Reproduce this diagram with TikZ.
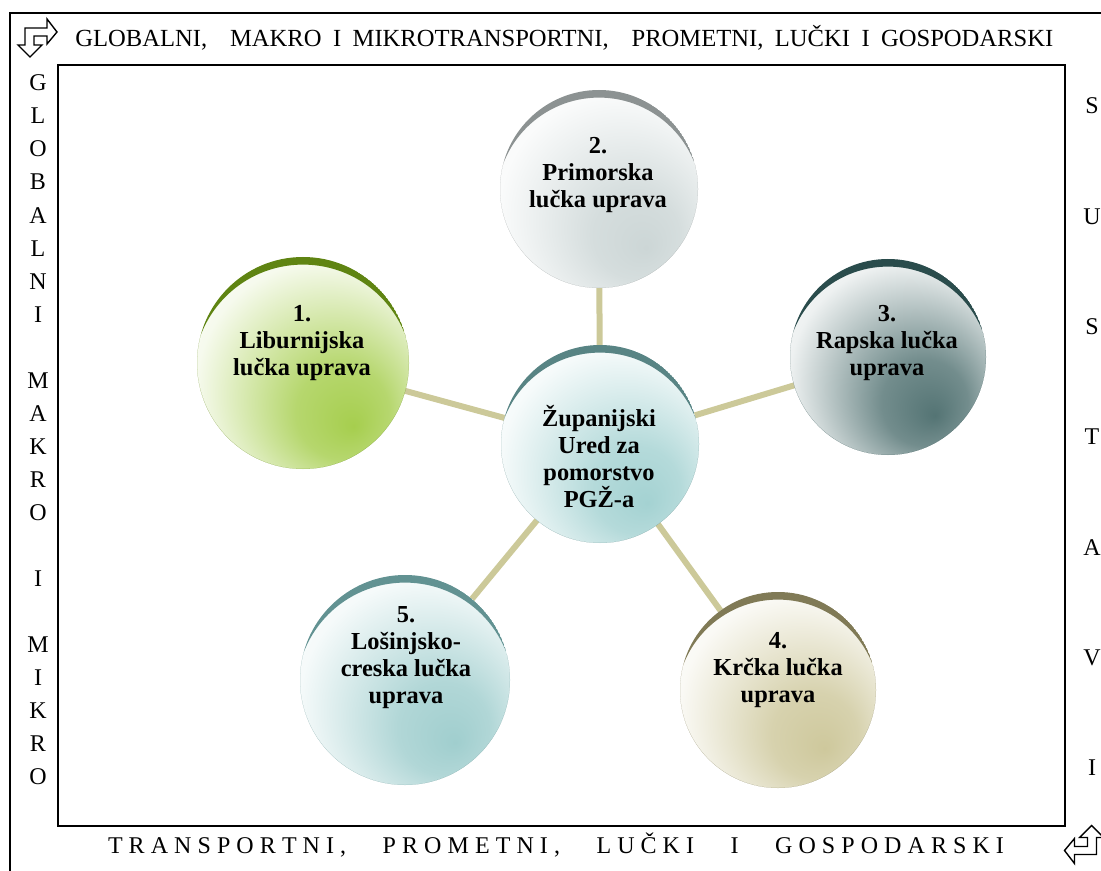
\documentclass[tikz,border=0pt]{standalone}
\usepackage{fontspec}
\setmainfont{Liberation Serif}
\usetikzlibrary{calc, backgrounds}
\definecolor{linkkhaki}{RGB}{204,201,153}
\definecolor{libdark}{RGB}{95,132,18}   \definecolor{liblight}{RGB}{166,206,78}
\definecolor{primdark}{RGB}{140,146,146} \definecolor{primlight}{RGB}{204,214,214}
\definecolor{rabdark}{RGB}{42,76,76}    \definecolor{rablight}{RGB}{84,116,116}
\definecolor{krkdark}{RGB}{128,122,86}  \definecolor{krklight}{RGB}{206,200,156}
\definecolor{losdark}{RGB}{98,146,146}  \definecolor{loslight}{RGB}{160,206,206}
\definecolor{zupdark}{RGB}{88,132,132}  \definecolor{zuplight}{RGB}{164,210,210}
\colorlet{glowcol}{white}
\pgfdeclareradialshading[glowcol]{portglow}{\pgfpoint{12bp}{-15bp}}{%
  color(0bp)=(glowcol); color(11bp)=(glowcol!82!white);
  color(30bp)=(glowcol!10!white); color(40bp)=(white); color(50bp)=(white)}
% top crescent of a circle: node, radius, colour
\newcommand{\crescent}[3]{%
  \begin{scope}
    \clip (#1.center) circle (#2);
    \fill[#3, even odd rule] (#1.center) circle (#2)
        ($(#1.center)+(0,-5.5pt)$) circle (#2+1.7pt);
  \end{scope}}
% spread letters
\newcommand{\lsp}{\hskip 0pt plus 1fill\relax}
\newcommand{\wsp}{\hskip 0pt plus 6fill\relax}

\begin{document}
\begin{tikzpicture}[
    x=0.5pt, y=-0.5pt,
    frame/.style={draw, line width=1pt},
    port/.style={circle, inner sep=0pt, minimum size=#1},
    glow/.style={/utils/exec={\colorlet{glowcol}{#1}}, shade, shading=portglow},
    porttext/.style={align=center, font=\bfseries\fontsize{12.2}{13.5}\selectfont},
    link/.style={linkkhaki, line width=3pt},
    letter/.style={inner sep=0pt, font=\fontsize{12}{14}\selectfont},
    turnarrow/.pic={
      \draw[line width=0.7pt, fill=white] (-12.5,-9.5) -- (9.5,-9.5) -- (9.5,-18.5)
        -- (19.5,-5.5) -- (9.5,6.5) -- (9.5,-1.5) -- (-3.5,-1.5) -- (-3.5,7.5)
        -- (4.5,7.5) -- (-7.5,19.5) -- (-19.5,7.5) -- (-12.5,7.5) -- cycle;}
]
    \useasboundingbox (0,0) rectangle (1101,871);

    % frames
    \draw[frame] (10,871) -- (10,13) -- (1101,13);
    \draw[frame] (58,65) rectangle (1065,826);
    \pic at (37.5,37.5) {turnarrow};
    \pic[rotate=180] at (1084,845) {turnarrow};

    % side texts
    \node[anchor=base west, inner sep=0pt, font=\fontsize{12.3}{14}\selectfont] (toptitle) at (75,47)
        {\makebox[489pt][s]{GLOBALNI,\ \ MAKRO I MIKROTRANSPORTNI,\ \ PROMETNI, LUČKI I GOSPODARSKI}};
    \node[anchor=base, inner sep=0pt, font=\fontsize{12}{14}\selectfont] (bottitle) at (556,853)
        {\makebox[448pt]{T\lsp R\lsp A\lsp N\lsp S\lsp P\lsp O\lsp R\lsp T\lsp N\lsp I\lsp ,\wsp
        P\lsp R\lsp O\lsp M\lsp E\lsp T\lsp N\lsp I\lsp ,\wsp L\lsp U\lsp Č\lsp K\lsp I\wsp I\wsp
        G\lsp O\lsp S\lsp P\lsp O\lsp D\lsp A\lsp R\lsp S\lsp K\lsp I}};
    \foreach \ch/\k in {G/0,L/1,O/2,B/3,A/4,L/5,N/6,I/7,M/9,A/10,K/11,R/12,O/13,I/15,M/17,I/18,K/19,R/20,O/21}
        \node[letter] (lv\k) at (38,83+33.05*\k) {\ch};
    \foreach \ch [count=\i from 0] in {S,U,S,T,A,V,I}
        \node[letter] (rv\i) at (1092,106+110.3*\i) {\ch};

    % circles
    \node[port=99pt,  glow=zuplight]  (zup) at (600,444) {};
    \node[port=106pt, glow=liblight]  (lib) at (303,363) {};
    \node[port=99pt,  glow=primlight] (pri) at (599,189) {};
    \node[port=98pt,  glow=rablight]  (rab) at (888,357) {};
    \node[port=98pt,  glow=krklight]  (krk) at (778,690) {};
    \node[port=105pt, glow=loslight]  (los) at (405,680) {};
    \crescent{zup}{49.5pt}{zupdark}
    \crescent{lib}{53pt}{libdark}
    \crescent{pri}{49.5pt}{primdark}
    \crescent{rab}{49pt}{rabdark}
    \crescent{krk}{49pt}{krkdark}
    \crescent{los}{52.5pt}{losdark}

    \begin{scope}[on background layer]
        \draw[link] (zup.center) -- (lib.center);
        \draw[link] (zup.center) -- (pri.center);
        \draw[link] (zup.center) -- (rab.center);
        \draw[link] (zup.center) -- (krk.center);
        \draw[link] (zup.center) -- (los.center);
    \end{scope}

    \node[porttext] (tzup) at (599,457) {Županijski\\Ured za\\pomorstvo\\PGŽ-a};
    \node[porttext] (tlib) at (302,343) {1.\\Liburnijska\\lučka uprava};
    \node[porttext] (tpri) at (598,175) {2.\\Primorska\\lučka uprava};
    \node[porttext] (trab) at (887,343) {3.\\Rapska lučka\\uprava};
    \node[porttext] (tkrk) at (778,670) {4.\\Krčka lučka\\uprava};
    \node[porttext] (tlos) at (406,658) {5.\\Lošinjsko-\\creska lučka\\uprava};
\end{tikzpicture}
\end{document}
